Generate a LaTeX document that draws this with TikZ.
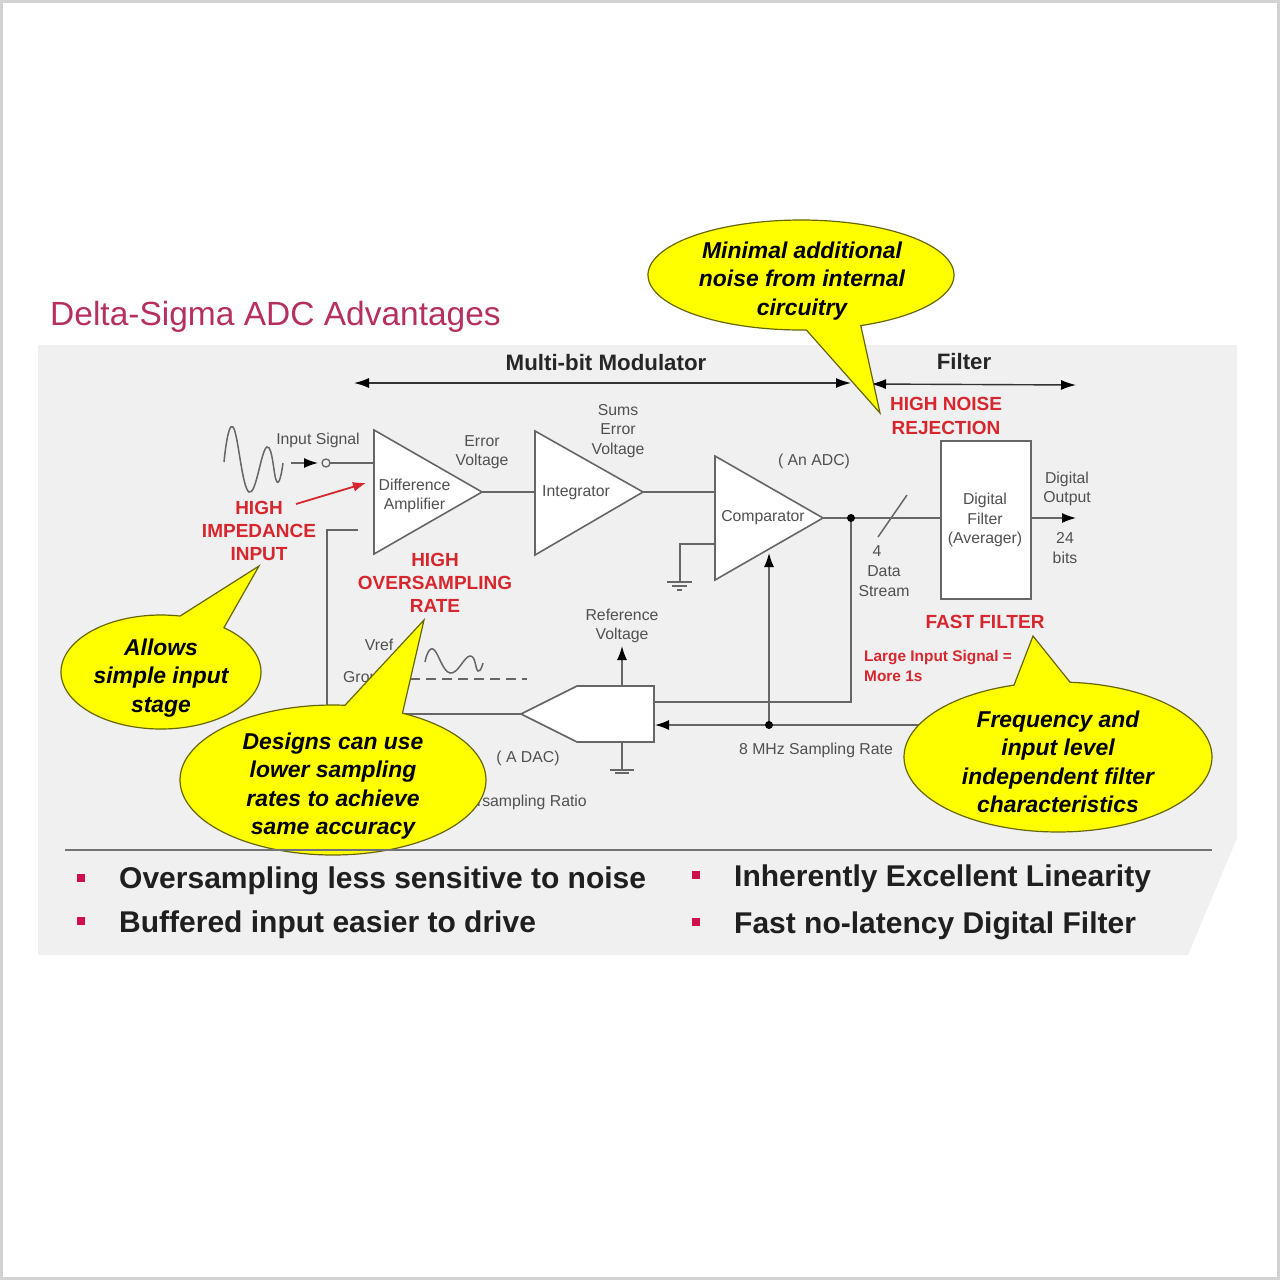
\documentclass[tikz,border=0pt]{standalone}
\usepackage{fontspec}
\setmainfont{Liberation Sans}
\usetikzlibrary{arrows.meta}
\definecolor{panel}{HTML}{F0F0F0}
\definecolor{edge}{HTML}{D2D2D2}
\definecolor{wire}{HTML}{666666}
\definecolor{lbl}{HTML}{505050}
\definecolor{redlbl}{HTML}{D8262E}
\definecolor{titlec}{HTML}{B53060}
\definecolor{bull}{HTML}{D0104C}
\definecolor{yel}{HTML}{FFFF00}
\tikzset{
 wireline/.style={draw=wire,line width=1.5pt},
 amp/.style={draw=wire,line width=1.6pt,fill=white,line join=miter},
 arrowline/.style={wireline,-{Latex[length=14pt,width=10pt,color=black]}},
 smalltxt/.style={text=lbl,align=center,inner sep=0pt,font=\fontsize{15.8}{19.4}\selectfont},
 redtxt/.style={text=redlbl,align=center,inner sep=0pt,font=\bfseries\fontsize{19}{23.2}\selectfont},
 redsmall/.style={text=redlbl,align=left,inner sep=0pt,font=\bfseries\fontsize{15.4}{19.4}\selectfont},
 headtxt/.style={text=black!85,inner sep=0pt,font=\bfseries\fontsize{22.3}{26}\selectfont},
 bubbletxt/.style={text=black,align=center,inner sep=0pt,font=\bfseries\itshape\fontsize{22.9}{28.4}\selectfont},
 bullettxt/.style={text=black!88,anchor=west,inner sep=0pt,font=\bfseries\fontsize{30}{34}\selectfont},
 bulletmark/.style={fill=bull,draw=none,minimum size=8pt,inner sep=0pt},
 bubbleshape/.style={draw=black!60!yel,line width=1.2pt,fill=yel,line join=miter},
 dotmark/.style={circle,fill=black,draw=none,minimum size=8pt,inner sep=0pt},
 span/.style={draw=black!80,line width=1.4pt,{Latex[length=15pt,width=10pt,color=black]}-{Latex[length=15pt,width=10pt,color=black]}}
}
% cx cy rx ry start end tipx tipy
\newcommand\speechbub[8]{\draw[bubbleshape] plot[domain=#5:#6,samples=120] ({#1+#3*cos(\x)},{#2+#4*sin(\x)}) -- (#7,#8) -- cycle;}
\begin{document}
\begin{tikzpicture}[x=1pt,y=-1pt]
\useasboundingbox (0,0) rectangle (1280,1280);
\fill[white] (0,0) rectangle (1280,1280);
\draw[edge,line width=3pt] (1.5,1.5) rectangle (1278.5,1278.5);
\fill[panel] (38,345) -- (1237,345) -- (1237,838) -- (1188,955) -- (38,955) -- cycle;
\node[text=titlec,anchor=west,inner sep=0pt,font=\fontsize{33.5}{38}\selectfont] (title) at (50,317) {Delta-Sigma ADC Advantages};

% headings and spans
\node[headtxt] (modhead) at (606,363) {Multi-bit Modulator};
\node[headtxt] (filthead) at (964,362) {Filter};
\coordinate (mA) at (354,383); \coordinate (mB) at (851,383);
\coordinate (fA) at (871,384); \coordinate (fB) at (1076,385);
\draw[span] (mA) -- (mB);
\draw[span] (fA) -- (fB);

% coordinates of the blocks
\coordinate (d1) at (374,430); \coordinate (d2) at (374,554); \coordinate (d3) at (482,492);
\coordinate (i1) at (535,431); \coordinate (i2) at (535,555); \coordinate (i3) at (643,492);
\coordinate (c1) at (715,456); \coordinate (c2) at (715,580); \coordinate (c3) at (823,518);
\coordinate (inA) at (291,463); \coordinate (inB) at (318,463);
\coordinate (dIn) at (374,463);
\coordinate (iIn) at (535,492);
\coordinate (cIn) at (715,492);
\coordinate (cGndA) at (715,544); \coordinate (cGndB) at (680,544); \coordinate (cGndC) at (680,581);
\coordinate (fbA) at (358,530); \coordinate (fbB) at (327,530); \coordinate (fbC) at (327,714);
\coordinate (dacTip) at (521,714);
\coordinate (dacUp) at (622,686); \coordinate (dacUpEnd) at (622,646);
\coordinate (dacDn) at (622,742); \coordinate (dacDnEnd) at (622,770);
\coordinate (split) at (851,518);
\coordinate (fIn) at (941,518); \coordinate (fOut) at (1031,518); \coordinate (outEnd) at (1076,518);
\coordinate (backA) at (851,702); \coordinate (backB) at (654,702);
\coordinate (clkA) at (930,725); \coordinate (clkB) at (655,725);
\coordinate (clkDot) at (769,725); \coordinate (clkUp) at (769,553);
\coordinate (slashA) at (878,537); \coordinate (slashB) at (907,495);

% wires
\draw[wireline] (dIn) -- (330,463);
\draw[arrowline] (inA) -- (inB);
\draw[wireline] (d3) -- (iIn);
\draw[wireline] (i3) -- (cIn);
\draw[wireline] (c3) -- (fIn);
\draw[wireline] (fbA) -- (fbB) -- (fbC) -- (dacTip);
\draw[wireline] (cGndA) -- (cGndB) -- (cGndC);
\draw[wireline] (667,582) -- (692,582) (672,586) -- (687,586) (677,590) -- (682,590);
\draw[wireline] (split) -- (backA) -- (backB);
\draw[wireline] (dacDn) -- (dacDnEnd);
\draw[wireline] (610,770) -- (634,770) (615,773) -- (629,773);
\draw[arrowline] (dacUp) -- (dacUpEnd);
\draw[wireline] (slashA) -- (slashB);
\draw[arrowline] (fOut) -- (outEnd);

% blocks
\node[circle,draw=wire,line width=1.3pt,fill=panel,minimum size=8pt,inner sep=0pt] (incirc) at (326,463) {};
\draw[amp] (d1) -- (d2) -- (d3) -- cycle;
\draw[amp] (i1) -- (i2) -- (i3) -- cycle;
\draw[amp] (c1) -- (c2) -- (c3) -- cycle;
\draw[amp] (dacTip) -- (577,686) -- (654,686) -- (654,742) -- (577,742) -- cycle;
\node[draw=wire,line width=1.6pt,fill=white,minimum width=90pt,minimum height=158pt,inner sep=0pt] (filter) at (986,520) {};
\draw[arrowline] (clkA) -- (clkB);
\draw[arrowline] (clkDot) -- (clkUp);
\node[dotmark] (dot1) at (split) {};
\node[dotmark] (dot2) at (clkDot) {};

% signal sketches
\draw[wire,line width=1.5pt] plot[smooth,tension=0.75] coordinates {(224,462) (233,427) (249,492) (267,447) (277,482) (283,463)};
\draw[wire,line width=1.5pt] plot[smooth,tension=0.75] coordinates {(425,662) (433,649) (450,673) (470,656) (478,671) (483,663)};
\draw[wire,line width=1.5pt,dash pattern=on 10pt off 6pt] (410,679) -- (527,679);

% small labels
\node[smalltxt] (t1) at (318,440) {Input Signal};
\node[smalltxt] (t2) at (482,452) {Error\\Voltage};
\node[smalltxt] (t3) at (414.5,496) {Difference\\Amplifier};
\node[smalltxt] (t4) at (618,431) {Sums\\Error\\Voltage};
\node[smalltxt] (t5) at (576,493) {Integrator};
\node[smalltxt] (t6) at (814,461) {( An ADC)};
\node[smalltxt] (t7) at (763,518) {Comparator};
\node[smalltxt] (t8) at (985,520) {Digital\\Filter\\(Averager)};
\node[smalltxt] (t9) at (1067,489) {Digital\\Output};
\node[smalltxt] (t10) at (1065,548) {24\\bits};
\node[smalltxt] (t11) at (877,551) {4};
\node[smalltxt] (t12) at (884,581) {Data\\Stream};
\node[smalltxt] (t13) at (622,626) {Reference\\Voltage};
\node[smalltxt] (t14) at (528,758) {( A DAC)};
\node[smalltxt] (t15) at (816,750) {8 MHz Sampling Rate};
\node[smalltxt] (t16) at (379,645) {Vref};
\node[smalltxt,anchor=west] (t17) at (343,677) {Ground};
\node[smalltxt,anchor=east] (t18) at (587,802) {Oversampling Ratio};

% red labels
\node[redtxt] (r1) at (259,531) {HIGH\\IMPEDANCE\\INPUT};
\node[redtxt] (r2) at (435,583) {HIGH\\OVERSAMPLING\\RATE};
\node[redtxt] (r3) at (946,416) {HIGH NOISE\\REJECTION};
\node[redtxt] (r4) at (985,622) {FAST FILTER};
\node[redsmall,anchor=west] (r5) at (864,666) {Large Input Signal =\\More 1s};
\coordinate (raA) at (296,504); \coordinate (raB) at (366,483);
\draw[draw=redlbl,line width=1.8pt,-{Latex[length=13pt,width=10pt]}] (raA) -- (raB);

% speech bubbles
\speechbub{801}{275}{153}{55}{88}{427}{880}{413}
\node[bubbletxt] (b1) at (802,281) {Minimal additional\\noise from internal\\circuitry};
\speechbub{161}{672}{100}{57}{309}{641}{259}{566}
\node[bubbletxt] (b2) at (161,678) {Allows\\simple input\\stage};
\speechbub{333}{780}{153}{75}{297}{634.5}{424}{620}
\node[bubbletxt] (b3) at (333,786) {Designs can use\\lower sampling\\rates to achieve\\same accuracy};
\speechbub{1058}{757}{154}{75}{274.5}{613.4}{1033}{636}
\node[bubbletxt] (b4) at (1058,762) {Frequency and\\input level\\independent filter\\characteristics};

% bottom
\coordinate (sepA) at (65,850); \coordinate (sepB) at (1212,850);
\draw[draw=black!55,line width=1.3pt] (sepA) -- (sepB);
\node[bulletmark] (m1) at (81,878) {};
\node[bulletmark] (m2) at (81,921) {};
\node[bulletmark] (m3) at (696,875) {};
\node[bulletmark] (m4) at (696,922) {};
\node[bullettxt] (l1) at (119,881) {Oversampling less sensitive to noise};
\node[bullettxt] (l2) at (119,925) {Buffered input easier to drive};
\node[bullettxt] (l3) at (734,879) {Inherently Excellent Linearity};
\node[bullettxt] (l4) at (734,926) {Fast no-latency Digital Filter};
\end{tikzpicture}
\end{document}
